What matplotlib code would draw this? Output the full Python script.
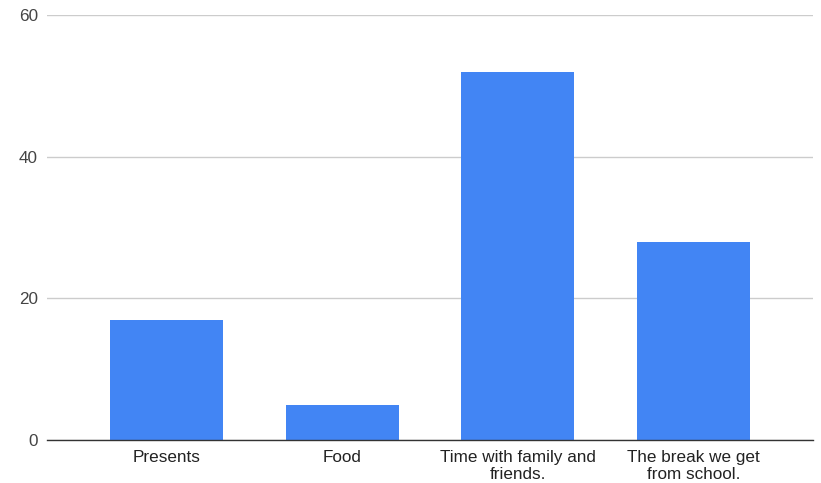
import numpy as np
import matplotlib
matplotlib.use('Agg')
import matplotlib.pyplot as plt

plt.rcParams['font.family'] = ['Liberation Sans', 'DejaVu Sans']

# data
categories = ['Presents', 'Food', 'Time with family and\nfriends.', 'The break we get\nfrom school.']
values = [17, 5, 52, 28]
y_ticks = [0, 20, 40, 60]

fig = plt.figure(figsize=(8.21, 4.83), dpi=100)
ax = fig.add_axes([0.0573, 0.089, 0.933, 0.879])

x = np.arange(len(categories))
ax.bar(x, values, width=0.643, color='#4285F4', zorder=3)

ax.set_xlim(-0.68, len(categories) - 1 + 0.68)
ax.set_ylim(0, 60)
ax.set_yticks(y_ticks)
ax.set_xticks(x)
ax.set_xticklabels(categories, fontsize=12.3, color='#222222', linespacing=1.15)
ax.tick_params(axis='y', labelsize=12.3, labelcolor='#444444', length=0, pad=6.5)
ax.tick_params(axis='x', length=0, pad=7)

ax.grid(axis='y', color='#cccccc', linewidth=1, zorder=0)
for s in ['top', 'right', 'left']:
    ax.spines[s].set_visible(False)
ax.spines['bottom'].set_color('#333333')
ax.spines['bottom'].set_linewidth(1)
ax.spines['bottom'].set_zorder(4)

fig.savefig('out.png', dpi=100, facecolor='white')
